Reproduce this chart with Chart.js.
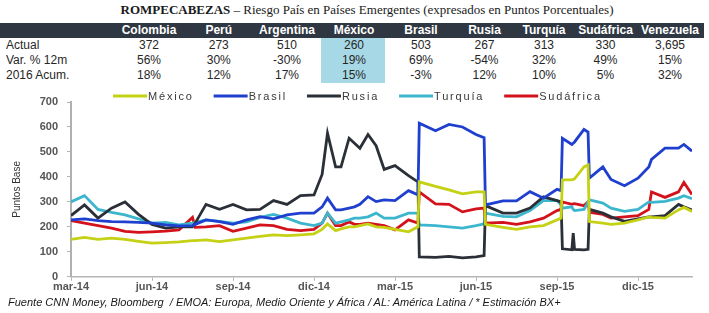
<!DOCTYPE html>
<html>
<head>
<meta charset="utf-8">
<script src="https://cdn.jsdelivr.net/npm/chart.js@4.4.1/dist/chart.umd.min.js"></script>
<style>
  body { margin: 0; width: 709px; height: 313px; background: #fff; position: relative; overflow: hidden;
         font-family: Arial, "Liberation Sans", sans-serif; }
  #title { position: absolute; top: 2px; left: 0; width: 734px; text-align: center;
           font: 13px "Liberation Serif", "Times New Roman", serif; color: #1a1a1a; white-space: nowrap; }
  #title b { font-weight: bold; }
  #tbl { position: absolute; top: 23px; left: 0; width: 705px; height: 62px; }
  .hdr { position: absolute; top: 0; left: 0; width: 704px; height: 15px; background: #2f3742; }
  .cell { position: absolute; height: 15px; line-height: 15px; font-size: 12px; color: #262626; text-align: center; }
  .cell.h { color: #fff; font-weight: bold; font-size: 12px; }
  .cell.lbl { text-align: left; padding-left: 6px; }
  .hl { position: absolute; left: 321px; top: 15px; width: 64px; height: 45px; background: #a6d8e6; }
  #wrap { position: absolute; left: 0; top: 86px; width: 709px; height: 212px; }
  #foot { position: absolute; left: 8px; top: 296px; font-size: 11px; font-style: italic; color: #1a1a1a; white-space: nowrap; }
</style>
</head>
<body>
<div id="title"><b>ROMPECABEZAS</b> – Riesgo País en Países Emergentes (expresados en Puntos Porcentuales)</div>
<div id="tbl"></div>
<div id="wrap"><canvas id="chart"></canvas></div>
<div id="foot">Fuente CNN Money, Bloomberg &nbsp;/ EMOA: Europa, Medio Oriente y África / AL: América Latina / * Estimación BX+</div>

<script>
// tabla superior
const paises = ['Colombia', 'Perú', 'Argentina', 'México', 'Brasil', 'Rusia', 'Turquía', 'Sudáfrica', 'Venezuela'];
const filas = ['Actual', 'Var. % 12m', '2016 Acum.'];
const actual = ['372', '273', '510', '260', '503', '267', '313', '330', '3,695'];
const var12m = ['56%', '30%', '-30%', '19%', '69%', '-54%', '32%', '49%', '15%'];
const acum2016 = ['18%', '12%', '17%', '15%', '-3%', '12%', '10%', '5%', '32%'];

// gráfica: meses desde mar-14 (0 = mar-14)
const meses = [0, 0.5, 1, 1.5, 2, 2.5, 3, 3.5, 4, 4.5, 4.6, 5, 5.5, 6, 6.5, 7, 7.5, 8, 8.5, 9,
  9.3, 9.5, 9.8, 10, 10.3, 10.5, 10.7, 11, 11.3, 11.6, 12, 12.5, 12.85, 12.9, 13.5, 14, 14.5, 15, 15.3, 15.35,
  16, 16.5, 17, 17.5, 18, 18.15, 18.2, 18.55, 18.6, 18.65, 19, 19.15, 19.2, 19.7, 20, 20.5, 21, 21.4, 21.5, 22,
  22.5, 22.7, 23];
const tickMeses = [0, 3, 6, 9, 12, 15, 18, 21];
const tickLabels = ['mar-14', 'jun-14', 'sep-14', 'dic-14', 'mar-15', 'jun-15', 'sep-15', 'dic-15'];

const mexico = [150, 158, 150, 155, 150, 142, 135, 137, 140, 145,
  145, 148, 141, 148, 155, 162, 168, 165, 168, 172,
  190, 212, 185, 192, 200, 200, 205, 212, 200, 198,
  190, 180, 200, 380, 362, 348, 332, 340, 340, 210,
  198, 190, 200, 205, 228, 235, 388, 388, 390, 392,
  440, 448, 221, 215, 210, 215, 228, 240, 238, 235,
  268, 278, 262];
const brasil = [228, 232, 225, 221, 220, 218, 215, 208, 204, 205,
  210, 228, 221, 210, 228, 241, 232, 248, 255, 255,
  280, 315, 268, 268, 275, 280, 290, 321, 301, 308,
  305, 345, 328, 615, 585, 610, 600, 570, 557, 288,
  304, 304, 341, 315, 350, 345, 555, 530, 535, 540,
  590, 580, 395, 440, 390, 365, 395, 440, 470, 515,
  515, 530, 503];
const rusia = [245, 288, 235, 275, 300, 250, 210, 195, 200, 200,
  215, 290, 270, 290, 268, 270, 305, 290, 325, 328,
  410, 575, 440, 440, 555, 535, 515, 570, 525, 430,
  445, 405, 380, 80, 78, 82, 76, 80, 85, 285,
  255, 255, 275, 320, 305, 300, 112, 108, 175, 110,
  108, 110, 270, 255, 240, 222, 232, 240, 240, 245,
  290, 280, 268];
const turquia = [300, 325, 270, 258, 248, 232, 215, 218, 208, 215,
  218, 228, 222, 215, 220, 238, 250, 235, 215, 205,
  215, 255, 215, 220, 228, 235, 235, 240, 255, 235,
  235, 255, 255, 208, 205, 200, 195, 205, 212, 255,
  242, 240, 265, 305, 305, 290, 275, 280, 270, 265,
  270, 300, 308, 295, 275, 262, 270, 300, 298, 302,
  315, 325, 313];
const sudafrica = [225, 215, 205, 195, 182, 178, 180, 183, 188, 238,
  198, 200, 205, 182, 195, 208, 205, 190, 185, 190,
  215, 255, 205, 205, 220, 210, 210, 215, 210, 205,
  188, 228, 215, 340, 292, 290, 260, 272, 275, 215,
  218, 210, 220, 235, 265, 270, 300, 290, 292, 293,
  285, 300, 258, 250, 235, 240, 245, 270, 340, 318,
  340, 378, 330];

// --- tabla ---
const colW = [114, 70, 69.5, 67, 67, 67, 60, 59, 64, 65];
const tbl = document.getElementById('tbl');
let html = '<div class="hdr"></div><div class="hl"></div>';
const colX = [0];
colW.forEach((w, i) => colX.push(colX[i] + w));
paises.forEach((p, i) => {
  html += `<div class="cell h" style="top:0;left:${colX[i + 1]}px;width:${colW[i + 1]}px">${p}</div>`;
});
[actual, var12m, acum2016].forEach((vals, r) => {
  const top = 15 + r * 15;
  html += `<div class="cell lbl" style="top:${top}px;left:0;width:${colW[0]}px">${filas[r]}</div>`;
  vals.forEach((v, i) => {
    html += `<div class="cell" style="top:${top}px;left:${colX[i + 1]}px;width:${colW[i + 1]}px">${v}</div>`;
  });
});
tbl.innerHTML = html;

// --- gráfica ---
const toPts = arr => arr.map((v, i) => ({ x: meses[i], y: v }));
const series = [
  { label: 'México', data: mexico, color: '#c4d114' },
  { label: 'Brasil', data: brasil, color: '#1f3fcf' },
  { label: 'Rusia', data: rusia, color: '#2b3038' },
  { label: 'Turquía', data: turquia, color: '#3cb6cd' },
  { label: 'Sudáfrica', data: sudafrica, color: '#d3121c' }
];

// leyenda con línea larga y texto espaciado
const lineLegend = {
  id: 'lineLegend',
  afterDraw(chart) {
    const ctx = chart.ctx;
    ctx.save();
    ctx.font = '11px Arial, "Liberation Sans", sans-serif';
    ctx.letterSpacing = '1.8px';
    ctx.textBaseline = 'middle';
    let x = 113;
    const y = 10;
    chart.data.datasets.forEach(ds => {
      ctx.strokeStyle = ds.borderColor;
      ctx.lineWidth = 3;
      ctx.beginPath();
      ctx.moveTo(x, y);
      ctx.lineTo(x + 34, y);
      ctx.stroke();
      ctx.fillStyle = '#3a3a3a';
      ctx.fillText(ds.label, x + 35, y + 0.5);
      x += 35 + ctx.measureText(ds.label).width + 20;
    });
    ctx.restore();
  }
};

new Chart(document.getElementById('chart'), {
  type: 'line',
  data: {
    datasets: series.map(s => ({
      label: s.label,
      data: toPts(s.data),
      borderColor: s.color,
      backgroundColor: s.color,
      borderWidth: 2.8,
      pointRadius: 0,
      tension: 0
    }))
  },
  options: {
    responsive: true,
    maintainAspectRatio: false,
    animation: false,
    devicePixelRatio: 1,
    layout: { padding: { left: 11, right: 17, top: 16, bottom: 4 } },
    plugins: { legend: { display: false }, tooltip: { enabled: false } },
    scales: {
      x: {
        type: 'linear',
        min: 0,
        max: 23,
        afterBuildTicks: axis => { axis.ticks = tickMeses.map(v => ({ value: v })); },
        ticks: {
          autoSkip: false,
          maxRotation: 0,
          padding: 0,
          color: '#555',
          font: { size: 11, weight: 'bold', family: 'Arial, "Liberation Sans", sans-serif' },
          callback: v => tickLabels[tickMeses.indexOf(v)]
        },
        grid: { display: true, drawOnChartArea: false, drawTicks: true, tickLength: 4, color: '#b5b5b5' },
        border: { display: true, color: '#b5b5b5', width: 1.5 }
      },
      y: {
        min: 0,
        max: 700,
        afterFit: scale => { scale.width = 60; },
        ticks: {
          stepSize: 100,
          padding: 9,
          color: '#555',
          font: { size: 11, weight: 'bold', family: 'Arial, "Liberation Sans", sans-serif' }
        },
        grid: { display: true, drawOnChartArea: false, drawTicks: true, tickLength: 4, color: '#b5b5b5' },
        border: { display: true, color: '#b0b0b0', width: 2 },
        title: {
          display: true,
          text: 'Puntos Base',
          color: '#333',
          padding: { top: 0, bottom: 4 },
          font: { size: 10, family: 'Arial, "Liberation Sans", sans-serif' }
        }
      }
    }
  },
  plugins: [lineLegend]
});
</script>
</body>
</html>
